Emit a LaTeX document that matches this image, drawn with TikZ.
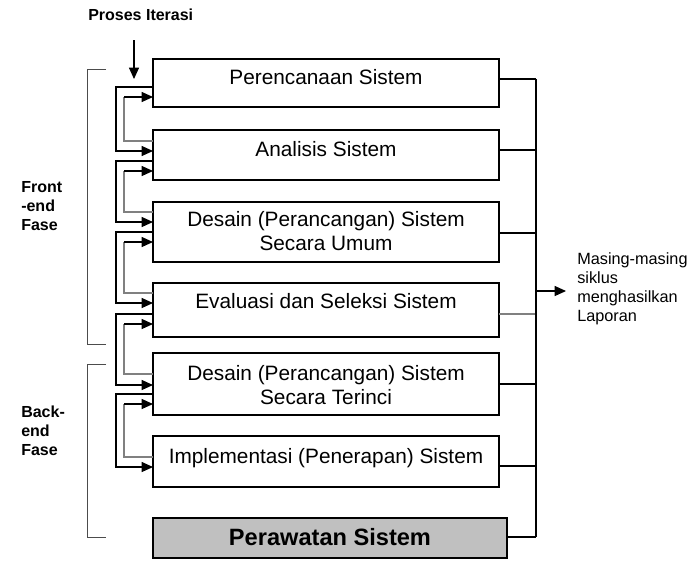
\documentclass[tikz,border=0pt]{standalone}
\usepackage{fontspec}
\setmainfont{Liberation Sans}
\usetikzlibrary{arrows.meta,calc}
\definecolor{boxgray}{HTML}{C0C0C0}
\begin{document}
\begin{tikzpicture}[x=0.75pt,y=-0.75pt,
  box/.style={draw, line width=0.8pt, inner sep=0pt, outer sep=0pt, minimum width=259.5pt},
  btxt/.style={font=\fontsize{15.6pt}{17.6pt}\selectfont, align=center, anchor=base, inner sep=0pt},
  lbl/.style={font=\bfseries\fontsize{12pt}{14.25pt}\selectfont, align=left, anchor=base west, inner sep=0pt},
  arr/.style={-{Triangle[length=8.5pt,width=7.5pt]}, line width=0.8pt},
  back/.style={draw=black!50, line width=0.8pt},
  wire/.style={line width=0.8pt},
  brk/.style={draw=black!70, line width=0.7pt}
]
\useasboundingbox (0,0) rectangle (692,562);

% boxes
\node[box, minimum height=36pt]   (b1) at (326,83) {};
\node[box, minimum height=37.5pt] (b2) at (326,155) {};
\node[box, minimum height=45pt]   (b3) at (326,232) {};
\node[box, minimum height=40.5pt] (b4) at (326,310) {};
\node[box, minimum height=46.5pt] (b5) at (326,384) {};
\node[box, minimum height=38.25pt](b6) at (326,461.5) {};
\node[box, minimum height=30pt, minimum width=265.5pt, fill=boxgray] (b7) at (330,538) {};

% box texts (multi-line nodes are anchored at their last baseline)
\node[btxt] (t1) at (326,84)  {Perencanaan Sistem};
\node[btxt] (t2) at (326,156) {Analisis Sistem};
\node[btxt] (t3) at (326,250) {Desain (Perancangan) Sistem\\Secara Umum};
\node[btxt] (t4) at (326,308) {Evaluasi dan Seleksi Sistem};
\node[btxt] (t5) at (326,404) {Desain (Perancangan) Sistem\\Secara Terinci};
\node[btxt] (t6) at (326,463) {Implementasi (Penerapan) Sistem};
\node[btxt, font=\bfseries\fontsize{17.7pt}{20pt}\selectfont] (t7) at (330,545) {Perawatan Sistem};

% labels
\node[lbl] (pi) at (88,20.5) {Proses Iterasi};
\node[lbl] (fe) at (21,230) {Front\\-end\\Fase};
\node[lbl] (be) at (21,455) {Back-\\end\\Fase};
\node[font=\fontsize{12.2pt}{14.25pt}\selectfont, align=left, anchor=base west, inner sep=0pt] (lap) at (577,321)
  {Masing-masing\\siklus\\menghasilkan\\Laporan};

% iteration arrow
\coordinate (pa) at (134,40);
\coordinate (pb) at (134,79);
\draw[arr] (pa) -- (pb);

% brackets
\draw[brk] (106,69) -- (87,69) -- (87,344) -- (106,344);
\draw[brk] (106,364) -- (87,364) -- (87,537) -- (106,537);

% iteration loops
\foreach \pu/\pl/\vfo/\vfi/\vbo/\vbi in {b1/b2/28/21/11/38, b2/b3/31/20/10/41, b3/b4/30/20/10/40, b4/b5/31/32/21/41, b5/b6/41/31/21/51}{
  \draw[arr] ($(\pu.north west)+(0,\vfo)$) -- ++(-37,0) |- ($(\pl.north west)+(0,\vfi)$);
  \draw[back] ($(\pl.north west)+(0,\vbo)$) -- ++(-29,0) |- ($(\pu.north west)+(-29,\vbi)$);
  \draw[arr] ($(\pu.north west)+(-29,\vbi)$) -- ($(\pu.north west)+(0,\vbi)$);
}

% report bus
\foreach \pb/\po in {b1/20, b2/20, b3/31, b5/31, b6/30}
  \draw[wire] ($(\pb.north east)+(0,\po)$) -- ++(37,0);
\draw[back] ($(b4.north east)+(0,31)$) -- ++(37,0);
\draw[wire] ($(b7.north east)+(0,19)$) -- ++(29,0);
\coordinate (bt) at (536,79);
\coordinate (bb) at (536,537);
\draw[wire] (bt) -- (bb);
\coordinate (bo) at (536,291);
\draw[arr, shorten >=8.25pt] (bo) -- (lap.west |- bo);
\end{tikzpicture}
\end{document}
